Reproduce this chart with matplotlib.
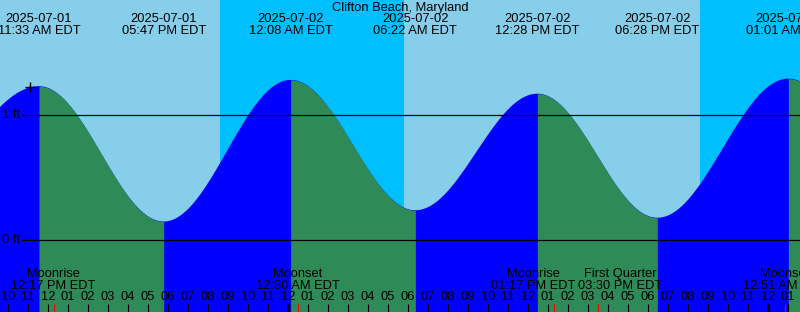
import numpy as np
import pandas as pd
import matplotlib
matplotlib.use("Agg")
import matplotlib.pyplot as plt
import matplotlib.transforms as mtransforms

# ---------------- data ----------------
title = "Clifton Beach, Maryland"
tide_times = ["2025-07-01 11:33", "2025-07-01 17:47", "2025-07-02 00:08",
              "2025-07-02 06:22", "2025-07-02 12:28", "2025-07-02 18:28",
              "2025-07-03 01:01"]
tide_heights = [1.23, 0.15, 1.28, 0.24, 1.17, 0.18, 1.29]
# off-chart extremes (estimated) needed to shape the curve at the edges
edge_times = ["2025-07-01 05:10", "2025-07-03 07:20"]
edge_heights = [0.45, 0.25]

sunset_times = ["2025-07-01 20:36", "2025-07-02 20:36"]
sunrise_times = ["2025-07-02 05:48"]

moon_names = ["Moonrise", "Moonset", "Moonrise", "First Quarter", "Moonset"]
moon_times = ["2025-07-01 12:17", "2025-07-02 00:30", "2025-07-02 13:17",
              "2025-07-02 15:30", "2025-07-03 00:51"]

now_time = "2025-07-01 11:06"
datum_levels = [0, 1]
datum_labels = ["0 ft", "1 ft"]

# ---------------- style ----------------
DAY = "#87CEEB"
NIGHT = "#00BFFF"
FLOOD = "#0000FF"
EBB = "#2E8B57"
FONT = "Liberation Sans"
FS = 9.3
moon_label_dx = [0, 0, -20, 22, 0]   # pixel nudges to keep labels apart

W, H = 800, 312
ORIGIN = pd.Timestamp("2025-07-01 00:00")


def hrs(s):
    return (pd.Timestamp(s) - ORIGIN).total_seconds() / 3600.0


# axis mapping: 20 px per hour, noon 07-01 at x=48 px ; 0 ft at y=240.3, 125.3 px/ft
PXH = 20.0
x_left = 12 + (0 - 48) / PXH
x_right = 12 + (W - 48) / PXH
PXFT = 125.3
y_top = 240.3 / PXFT
y_bot = (240.3 - H) / PXFT

fig = plt.figure(figsize=(W / 100, H / 100), dpi=100)
ax = fig.add_axes([0, 0, 1, 1])
ax.set_xlim(x_left, x_right)
ax.set_ylim(y_bot, y_top)
ax.axis("off")

# background day / night
ax.axvspan(x_left, x_right, color=DAY, lw=0, zorder=0)
ss = [hrs(t) for t in sunset_times]
sr = [hrs(t) for t in sunrise_times]
ax.axvspan(ss[0], sr[0], color=NIGHT, lw=0, zorder=0.5)
ax.axvspan(ss[1], x_right, color=NIGHT, lw=0, zorder=0.5)

# tide curve (cosine between extremes)
ext_t = np.array([hrs(edge_times[0])] + [hrs(t) for t in tide_times] + [hrs(edge_times[1])])
ext_h = np.array([edge_heights[0]] + tide_heights + [edge_heights[1]])

segs = []
for i in range(len(ext_t) - 1):
    t0, t1 = ext_t[i], ext_t[i + 1]
    h0, h1 = ext_h[i], ext_h[i + 1]
    tt = np.linspace(t0, t1, 300)
    hh = h0 + (h1 - h0) * (1 - np.cos(np.pi * (tt - t0) / (t1 - t0))) / 2
    segs.append((tt, hh, h1 > h0))

all_t = np.concatenate([s[0] for s in segs])
all_h = np.concatenate([s[1] for s in segs])
ax.fill_between(all_t, y_bot, all_h, color=FLOOD, lw=0, zorder=1)
for tt, hh, rising in segs:
    if not rising:
        ax.fill_between(tt, y_bot, hh, color=EBB, lw=0, zorder=1.5)

# datum lines
for lvl, lab in zip(datum_levels, datum_labels):
    ax.axhline(lvl, xmin=22 / W, xmax=1, color="black", lw=0.9, zorder=2)
    ax.text(x_left + 20.5 / PXH, lvl, lab, ha="right", va="center",
            fontsize=FS, family=FONT, color="black", zorder=3)

# now marker
nt = hrs(now_time)
ax.plot([nt], [np.interp(nt, all_t, all_h)], marker="+", color="black",
        markersize=6.5, mew=1.0, zorder=3)

trans = mtransforms.blended_transform_factory(ax.transData, ax.transAxes)


def ypx(p):
    return 1 - p / H


# title
ax.text(0.5, ypx(8), title, transform=ax.transAxes, ha="center", va="center",
        fontsize=FS, family=FONT, color="black", zorder=4)

# tide event labels
for t in tide_times:
    ts = pd.Timestamp(t)
    x = hrs(t)
    ax.text(x, ypx(19.5), ts.strftime("%Y-%m-%d"), transform=trans, ha="center",
            va="center", fontsize=FS, family=FONT, color="black", zorder=4)
    ax.text(x, ypx(31.5), ts.strftime("%I:%M %p EDT"), transform=trans, ha="center",
            va="center", fontsize=FS, family=FONT, color="black", zorder=4)

# moon labels
for name, t, dx in zip(moon_names, moon_times, moon_label_dx):
    ts = pd.Timestamp(t)
    x = hrs(t) + dx / PXH
    ax.text(x, ypx(274), name, transform=trans, ha="center", va="center",
            fontsize=FS, family=FONT, color="black", zorder=4)
    ax.text(x, ypx(286), ts.strftime("%I:%M %p EDT"), transform=trans, ha="center",
            va="center", fontsize=FS, family=FONT, color="black", zorder=4)

# hour ticks and labels
hours = np.arange(np.ceil(x_left), np.floor(x_right) + 1)
tick_top = (240.3 - 304) / PXFT
for h in hours:
    lab = int(h) % 12
    lab = 12 if lab == 0 else lab
    ax.text(h, ypx(297.5), f"{lab:02d}", transform=trans, ha="center", va="center",
            fontsize=FS, family=FONT, color="black", zorder=4)
ax.vlines(hours, y_bot, tick_top, color="black", lw=0.8, zorder=3)
midnights = [h for h in hours if int(h) % 24 == 0]
ax.vlines(midnights, y_bot, tick_top, color="black", lw=2.2, zorder=3)
ax.vlines([hrs(t) for t in moon_times], y_bot, tick_top, color="red", lw=0.8, zorder=3.5)

fig.savefig("out.png", dpi=100)
